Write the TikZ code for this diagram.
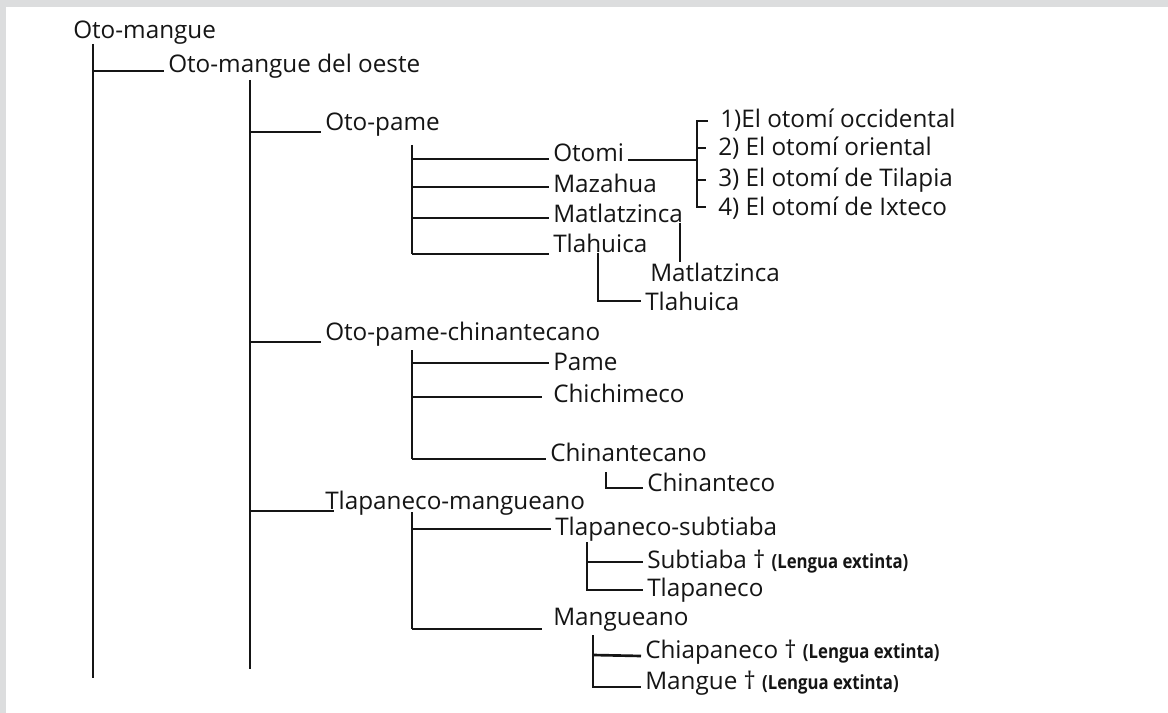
\documentclass[tikz,border=0pt]{standalone}
\usepackage{xcolor}
\usepackage{fontspec}
\setmainfont{Open Sans}
\newfontfamily\extfont[FakeStretch=0.86]{Open Sans}
\usepackage{tikz}
\definecolor{OMInk}  {HTML}{151515}
\definecolor{OMFrame}{HTML}{DCDDDE}
\definecolor{OMPaper}{HTML}{FFFFFF}
\newcommand{\extinta}{{\extfont\fontsize{14.6}{17}\selectfont\bfseries (Lengua extinta)}}

\begin{document}
\begin{tikzpicture}[x=0.75pt,y=-0.75pt,
    lang/.style={anchor=west,inner sep=0pt,inner xsep=3pt,text=OMInk,
                 font=\fontsize{18.2}{22}\selectfont},
    branch/.style={draw=OMInk,line width=2pt}]
    % Frame
    \fill[OMFrame] (0,0) rectangle (1168,713);
    \fill[OMPaper] (6,7) rectangle (1168,713);
    \useasboundingbox (0,0) rectangle (1168,713);
    % Top levels
    \node[lang] (omangue)  at (69,33)  {Oto-mangue};
    \node[lang] (oeste)    at (164,66) {Oto-mangue del oeste};
    \node[lang] (otopame)  at (321,125){Oto-pame};
    \node[lang] (opchin)   at (321,334){Oto-pame-chinantecano};
    \node[lang] (tlapmang) at (321,503){Tlapaneco-mangueano};
    % Oto-pame
    \node[lang] (otomi)    at (549,153){Otomi};
    \node[lang] (mazahua)  at (549,183){Mazahua};
    \node[lang] (matl)     at (549,213){Matlatzinca};
    \node[lang] (tlah)     at (549,243){Tlahuica};
    \node[lang] (matlsub)  at (646,272){Matlatzinca};
    \node[lang] (tlahsub)  at (641,301){Tlahuica};
    \node[lang] (occ)      at (716,120){1)El otomí occidental};
    \node[lang] (ori)      at (714,148){2) El otomí oriental};
    \node[lang] (tila)     at (714,180){3) El otomí de Tilapia};
    \node[lang] (ixt)      at (714,208){4) El otomí de Ixteco};
    % Oto-pame-chinantecano
    \node[lang] (pame)     at (549,362){Pame};
    \node[lang] (chichi)   at (549,393){Chichimeco};
    \node[lang] (chtcano)  at (546,452){Chinantecano};
    \node[lang] (chteco)   at (643,482){Chinanteco};
    % Tlapaneco-mangueano
    \node[lang] (tlapsub)  at (551,529){Tlapaneco-subtiaba};
    \node[lang] (subtiaba) at (643,562){Subtiaba † \extinta};
    \node[lang] (tlapan)   at (643,590){Tlapaneco};
    \node[lang] (mangueano)at (549,620){Mangueano};
    \node[lang] (chiapa)   at (641,652){Chiapaneco † \extinta};
    \node[lang] (mangue)   at (641,683){Mangue † \extinta};

    % Trunks
    \coordinate (omTop) at (93,44);   \coordinate (omEnd) at (93,678);
    \coordinate (owTop) at (250,80);  \coordinate (owEnd) at (250,669);
    \coordinate (opTop) at (412,145); \coordinate (opEnd) at (412,254);
    \coordinate (ocTop) at (412,350); \coordinate (ocEnd) at (412,459);
    \coordinate (tmTop) at (412,512); \coordinate (tmEnd) at (412,629);
    \coordinate (brTop) at (697,121); \coordinate (brEnd) at (697,207);
    \coordinate (cnTop) at (606,472);
    \coordinate (stTop) at (587,542);
    \coordinate (cpTop) at (593,635);

    % Oto-mangue
    \draw[branch] (omTop) -- (omEnd);
    \draw[branch] (omTop |- 0,71) -- (oeste.west |- 0,71);
    % Oto-mangue del oeste
    \draw[branch] (owTop) -- (owEnd);
    \draw[branch] (owTop |- 0,132) -- (otopame.west |- 0,132);
    \draw[branch] (owTop |- 0,342) -- (opchin.west |- 0,342);
    \draw[branch] (owTop |- 0,511) -- ([xshift=10pt]tlapmang.west |- 0,511);
    % Oto-pame
    \draw[branch] (opTop) -- (opEnd);
    \draw[branch] (opTop |- 0,159) -- (otomi.west |- 0,159);
    \draw[branch] (opTop |- 0,187) -- (mazahua.west |- 0,187);
    \draw[branch] (opTop |- 0,218) -- (matl.west |- 0,218);
    \draw[branch] (opEnd) -- (tlah.west |- opEnd);
    \draw[branch] (otomi.east |- 0,160) -- (brTop |- 0,160);
    \draw[branch] ([xshift=-6pt]occ.west |- brTop) -- (brTop) -- (brEnd)
                  -- ([xshift=-6pt]ixt.west |- brEnd);
    \draw[branch] (brTop |- ori.west) -- ([xshift=-6pt]ori.west);
    \draw[branch] (brTop |- tila.west) -- ([xshift=-6pt]tila.west);
    \draw[branch] (matl.south -| 680,0) -- (matlsub.north -| 680,0);
    \draw[branch] (tlah.south -| 598,0) |- (tlahsub.west);
    % Oto-pame-chinantecano
    \draw[branch] (ocTop) -- (ocEnd);
    \draw[branch] (ocTop |- 0,363) -- (pame.west |- 0,363);
    \draw[branch] (ocTop |- 0,397) -- ([xshift=-5pt]chichi.west |- 0,397);
    \draw[branch] (ocEnd) -- (chtcano.west |- ocEnd);
    \draw[branch] (cnTop) |- ([yshift=-4.5pt]chteco.west);
    % Tlapaneco-mangueano
    \draw[branch] (tmTop) -- (tmEnd);
    \draw[branch] (tmTop |- tlapsub.west) -- (tlapsub.west);
    \draw[branch] (tmEnd) -- ([xshift=-5pt]mangueano.west |- tmEnd);
    \draw[branch] (stTop) |- (tlapan.west);
    \draw[branch] (stTop |- subtiaba.west) -- (subtiaba.west);
    \draw[branch] (cpTop) |- ([yshift=-3pt]mangue.west);
    \draw[branch] (cpTop |- chiapa.west) ++(0,3) -- ([yshift=-3pt]chiapa.west);
\end{tikzpicture}
\end{document}
